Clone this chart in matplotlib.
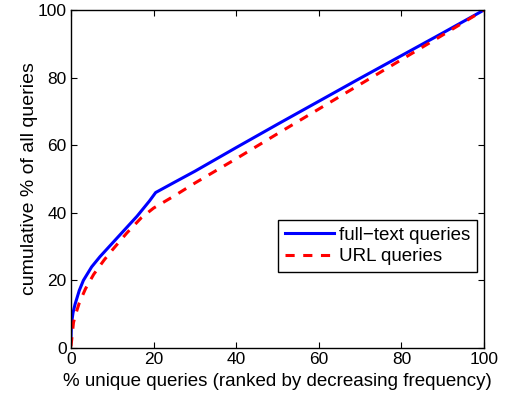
import matplotlib
matplotlib.use('Agg')
import matplotlib.pyplot as plt

plt.rcParams['font.family'] = ['Liberation Sans', 'DejaVu Sans']

# cumulative curves
full_x = [0, 0.1, 0.5, 1, 2, 3, 5, 7, 10, 13, 16, 19, 20.5, 25, 30, 40, 50, 60, 70, 80, 90, 100]
full_y = [3, 7, 10.5, 13, 17, 20, 24, 27, 31, 35, 39, 43.5, 46, 49, 52.3, 59.3, 66.2, 73, 79.8, 86.5, 93.2, 100]
url_x = [0, 0.3, 0.6, 1, 2, 3.5, 5.5, 8, 10, 13.5, 17, 20, 25, 30, 40, 50, 60, 70, 80, 90, 100]
url_y = [0.5, 4, 7.5, 9.5, 13.3, 17.5, 21.8, 26, 29, 34, 38.5, 41.4, 45, 48.8, 56, 63.4, 70.7, 78, 85.3, 92.6, 100]

fig = plt.figure(figsize=(5.06, 3.96), dpi=100)
ax = fig.add_axes([0.1403, 0.1212, 0.8162, 0.8535])

ax.plot(full_x, full_y, color='blue', lw=2.2, label='full\u2212text queries')
ax.plot(url_x, url_y, color='red', lw=2.2, ls=(0, (3, 2.8)), label='URL queries')

ax.set_xlim(0, 100)
ax.set_ylim(0, 100)
ax.set_xticks(range(0, 101, 20))
ax.set_yticks(range(0, 101, 20))
ax.tick_params(direction='in', top=True, right=True, labelsize=12.5, length=4, pad=3)
for s in ax.spines.values():
    s.set_linewidth(1.0)

ax.set_xlabel('% unique queries (ranked by decreasing frequency)', fontsize=13.5, labelpad=4)
ax.set_ylabel('cumulative % of all queries', fontsize=14, labelpad=0)

leg = ax.legend(loc='upper right', bbox_to_anchor=(0.983, 0.379), fontsize=13.5,
                fancybox=False, framealpha=1, edgecolor='black', borderpad=0.35,
                handlelength=2.6, handletextpad=0.3, labelspacing=0.25, borderaxespad=0)
leg.get_frame().set_linewidth(1.0)

fig.savefig('out.png', dpi=100)
